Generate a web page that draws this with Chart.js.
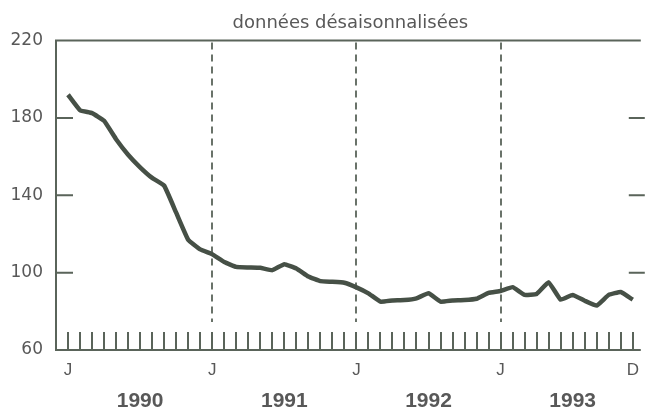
<!DOCTYPE html>
<html>
<head>
<meta charset="utf-8">
<script src="https://cdn.jsdelivr.net/npm/chart.js@4.4.0/dist/chart.umd.min.js"></script>
<style>
  html, body { margin: 0; padding: 0; background: #fff; }
  #wrap { width: 649px; height: 413px; position: relative; }
</style>
</head>
<body>
<div id="wrap"><canvas id="chart"></canvas></div>
<script>
// Monthly index, Jan 1990 .. Dec 1993 (seasonally adjusted)
const values = [
  192, 184, 182.5, 178.5, 169, 161, 154.5, 149, 145, 131, 117, 112,
  109.5, 105.5, 103, 102.7, 102.5, 101.3, 104.4, 102.2, 98, 95.6, 95.3, 94.8,
  92.4, 89.3, 85, 85.6, 85.8, 86.7, 89.3, 85, 85.6, 85.8, 86.5, 89.5,
  90.5, 92.5, 88.5, 89, 95, 86, 88.5, 85.5, 83, 88.5, 90, 86
];
const monthTickPos  = [0, 12, 24, 36, 47];
const monthTickText = ['J', 'J', 'J', 'J', 'D'];
const yearPos       = [6, 18, 30, 42];
const yearText      = ['1990', '1991', '1992', '1993'];
const yearStarts    = [12, 24, 36];
const yTicks        = [60, 100, 140, 180, 220];
const innerYTicks   = [100, 140, 180];
const titleText     = 'données désaisonnalisées';

const INK  = '#465046';
const AXIS = '#5a645a';
const TXT  = '#585858';

// frame, inward ticks and dashed year separators
const framePlugin = {
  id: 'frame',
  beforeDatasetsDraw(chart) {
    const { ctx, chartArea: a, scales } = chart;
    const x = scales.x, y = scales.y;
    ctx.save();
    ctx.strokeStyle = AXIS;
    ctx.lineWidth = 2;
    ctx.beginPath();
    ctx.moveTo(a.right - 4, a.top); ctx.lineTo(a.left, a.top);
    ctx.lineTo(a.left, a.bottom); ctx.lineTo(a.right - 4, a.bottom);
    ctx.stroke();

    innerYTicks.forEach(v => {
      const py = y.getPixelForValue(v);
      ctx.beginPath();
      ctx.moveTo(a.left, py); ctx.lineTo(a.left + 17, py);
      ctx.moveTo(a.right - 16, py); ctx.lineTo(a.right, py);
      ctx.stroke();
    });

    ctx.lineWidth = 2;
    values.forEach((_, i) => {
      const px = Math.round(x.getPixelForValue(i));
      ctx.beginPath();
      ctx.moveTo(px, a.bottom); ctx.lineTo(px, a.bottom - 18);
      ctx.stroke();
    });

    ctx.setLineDash([7, 5]);
    ctx.lineWidth = 1.8;
    yearStarts.forEach(m => {
      const px = Math.round(x.getPixelForValue(m));
      ctx.beginPath();
      ctx.moveTo(px, a.top + 2); ctx.lineTo(px, a.bottom - 28);
      ctx.stroke();
    });
    ctx.restore();
  }
};

new Chart(document.getElementById('chart'), {
  type: 'line',
  data: {
    datasets: [{
      data: values.map((v, i) => ({ x: i, y: v })),
      borderColor: INK,
      borderWidth: 4.5,
      pointRadius: 0,
      tension: 0.1,
      fill: false
    }]
  },
  options: {
    responsive: true, maintainAspectRatio: false, animation: false,
    layout: { padding: 0 },
    plugins: {
      legend: { display: false },
      tooltip: { enabled: false },
      title: {
        display: true, text: titleText, fullSize: false,
        color: TXT, font: { family: 'DejaVu Sans', size: 18, weight: 'normal' },
        padding: { top: 13, bottom: 6 }
      }
    },
    scales: {
      x: {
        type: 'linear', min: -1, max: 48,
        grid: { display: false, drawTicks: false }, border: { display: false },
        afterBuildTicks: s => { s.ticks = monthTickPos.map(v => ({ value: v })); },
        afterFit: s => { s.height = 30; },
        ticks: {
          autoSkip: false, maxRotation: 0, padding: 10, color: TXT,
          font: { family: 'Liberation Sans', size: 17 },
          callback: v => monthTickText[monthTickPos.indexOf(v)]
        }
      },
      years: {
        type: 'linear', position: 'bottom', min: -1, max: 48,
        grid: { display: false, drawTicks: false }, border: { display: false },
        afterBuildTicks: s => { s.ticks = yearPos.map(v => ({ value: v })); },
        afterFit: s => { s.height = 33; },
        ticks: {
          autoSkip: false, maxRotation: 0, padding: 9, color: TXT,
          font: { family: 'Liberation Sans', size: 21, weight: 'bold' },
          callback: v => yearText[yearPos.indexOf(v)]
        }
      },
      y: {
        min: 60, max: 220,
        grid: { display: false, drawTicks: false }, border: { display: false },
        afterBuildTicks: s => { s.ticks = yTicks.map(v => ({ value: v })); },
        afterFit: s => { s.width = 56; },
        ticks: {
          padding: 13, color: TXT,
          font: { family: 'DejaVu Sans', size: 17 }
        }
      }
    }
  },
  plugins: [framePlugin]
});
</script>
</body>
</html>
